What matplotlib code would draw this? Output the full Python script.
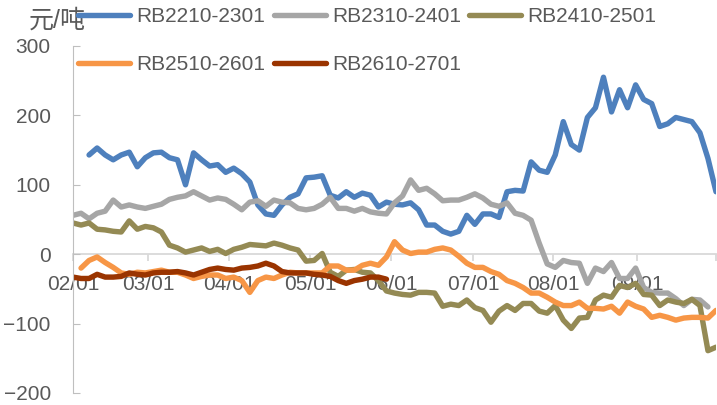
import matplotlib
matplotlib.use('Agg')
import matplotlib.pyplot as plt
import numpy as np

plt.rcParams['font.family'] = ['Liberation Sans', 'Noto Sans CJK SC', 'DejaVu Sans']

# данные: значения по торговым точкам (индекс по оси X)
series_names = ['RB2210-2301', 'RB2310-2401', 'RB2410-2501', 'RB2510-2601', 'RB2610-2701']
series_colors = ['#4E80BD', '#A6A6A6', '#948A54', '#F79646', '#9A3400']
series_start = [2, 0, 0, 1, 0]

rb2210 = [143, 153, 143, 136, 143, 147, 126, 139, 146, 147,
          139, 136, 100, 146, 136, 127, 129, 118, 124, 116,
          104, 71, 58, 56, 71, 82, 87, 110, 111, 113,
          85, 81, 90, 82, 88, 85, 68, 75, 72, 71,
          74, 64, 42, 42, 33, 29, 33, 56, 43, 58,
          58, 53, 90, 92, 91, 133, 121, 118, 143, 191,
          158, 150, 197, 211, 255, 205, 237, 211, 244, 223,
          217, 184, 188, 197, 194, 191, 175, 138, 90]

rb2310 = [56, 59, 51, 59, 62, 78, 68, 71, 68, 66,
          69, 72, 79, 82, 84, 90, 84, 78, 81, 79,
          72, 64, 75, 77, 69, 78, 75, 74, 66, 64,
          66, 72, 82, 66, 66, 62, 66, 61, 59, 58,
          74, 84, 107, 92, 95, 87, 77, 78, 78, 82,
          87, 81, 72, 69, 74, 59, 56, 49, 16, -14,
          -19, -9, -12, -13, -42, -20, -25, -12, -35, -35,
          -20, -48, -55, -56, -56, -64, -74, -65, -66, -76]

rb2410 = [45, 42, 45, 36, 35, 33, 32, 48, 36, 40,
          38, 32, 13, 9, 3, 6, 9, 4, 7, 1,
          7, 10, 14, 13, 12, 16, 13, 9, 6, -10,
          -9, 1, -26, -32, -23, -22, -26, -27, -38, -53,
          -56, -58, -59, -55, -55, -56, -75, -72, -74, -66,
          -77, -81, -98, -82, -74, -81, -71, -71, -82, -85,
          -74, -95, -107, -92, -91, -66, -59, -62, -45, -48,
          -42, -58, -59, -74, -66, -69, -71, -65, -74, -139,
          -134]

rb2510 = [-20, -9, -4, -12, -19, -27, -29, -26, -27, -25,
          -23, -26, -26, -30, -35, -32, -30, -30, -35, -33,
          -38, -55, -38, -33, -35, -30, -26, -27, -27, -27,
          -27, -17, -17, -23, -23, -16, -13, -16, -4, 18,
          6, 1, 3, 3, 7, 9, 6, -3, -13, -19,
          -19, -25, -29, -38, -42, -48, -56, -56, -62, -69,
          -74, -74, -69, -78, -78, -79, -75, -85, -69, -75,
          -79, -91, -88, -91, -95, -92, -91, -91, -92, -81]

rb2610 = [-33, -35, -35, -29, -33, -33, -32, -27, -29, -30,
          -27, -26, -26, -25, -27, -30, -26, -22, -20, -22,
          -23, -20, -19, -17, -13, -17, -25, -27, -27, -27,
          -29, -30, -32, -38, -42, -38, -36, -33, -33, -36]

series_values = [rb2210, rb2310, rb2410, rb2510, rb2610]

month_pos = [0, 9.33, 19.41, 29.49, 39.56, 49.77, 59.72, 70.17, 80]
month_labels = ['02/01', '03/01', '04/01', '05/01', '06/01', '07/01', '08/01', '09/01', '']
y_ticks = [-200, -100, 0, 100, 200, 300]

W, H = 717, 405
fig = plt.figure(figsize=(W / 100, H / 100), dpi=100)
ax = fig.add_axes([73 / W, 12 / H, 643 / W, 347 / H])

lines = []
for name, color, start, vals in zip(series_names, series_colors, series_start, series_values):
    x = np.arange(start, start + len(vals))
    ln, = ax.plot(x, vals, color=color, lw=3.9, label=name,
                  solid_capstyle='round', solid_joinstyle='round')
    lines.append(ln)

ax.set_xlim(0, 80)
ax.set_ylim(-200, 300)
ax.set_yticks(y_ticks)
ax.set_xticks(month_pos, month_labels)

for s in ['top', 'right']:
    ax.spines[s].set_visible(False)
ax.spines['left'].set_color('#BFBFBF')
ax.spines['bottom'].set_position(('data', 0))
ax.spines['bottom'].set_color('#D9D9D9')
ax.spines['bottom'].set_linewidth(1.3)
ax.spines['bottom'].set_zorder(0.5)

ax.tick_params(axis='y', direction='in', length=5, color='#BFBFBF',
               labelcolor='#595959', labelsize=15, pad=16)
ax.tick_params(axis='x', direction='out', length=5, color='#D9D9D9', width=1.3,
               labelcolor='#595959', labelsize=15, pad=10)

fig.text(57 / W, 1 - 21 / H, '元/吨', ha='center', va='center',
         fontsize=18, color='#595959', zorder=5)

# порядок как в Excel: две строки
order = [0, 3, 1, 4, 2]
leg = fig.legend([lines[i] for i in order], [series_names[i] for i in order],
                 ncol=3, loc='upper left', bbox_to_anchor=(78 / W, 1 - 7 / H),
                 frameon=False, fontsize=15, handlelength=2.5, handletextpad=0.3,
                 columnspacing=0.4, labelspacing=1.4, borderpad=0, borderaxespad=0)
for t in leg.get_texts():
    t.set_color('#595959')

fig.savefig('out.png', dpi=100)
